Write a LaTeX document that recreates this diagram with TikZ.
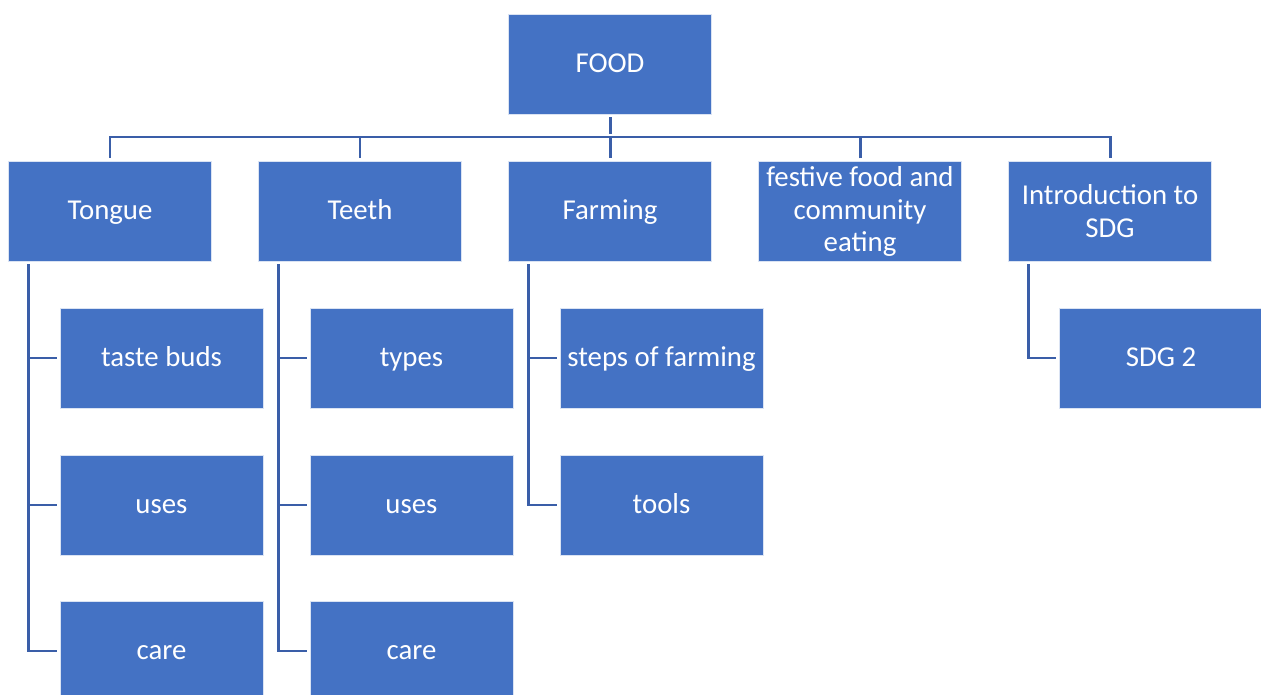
\documentclass[tikz,border=0pt]{standalone}
\usepackage{fontspec}
\setmainfont{Carlito}
\usetikzlibrary{calc}
\usepackage{xcolor}
\definecolor{b1}{HTML}{4472C4}
\definecolor{b2}{HTML}{3A5EA8}

\tikzset{
  box/.style = {fill = b1, draw = white!80!b1, line width = 0.5pt,
    text = white, align = center, inner sep = 2pt,
    minimum width = 4.06cm, minimum height = 2cm},
  line1/.style = {box, text height = 12.6pt, text depth = 3.4pt},
  link/.style = {draw = b2, line width = 1.7pt, shorten <= 1.5pt, shorten >= 1.5pt}
}

\begin{document}
\begin{tikzpicture} [x = 0.02cm, y = -0.02cm,
	font = \fontsize{16.4}{18.5}\selectfont]
\useasboundingbox (0,0) rectangle (1261,695);

% top:
\node [line1] (food) at (610,64) {FOOD};

% second row:
\node [line1] (tongue)  at (110,211)  {Tongue};
\node [line1] (teeth)   at (360,211)  {Teeth};
\node [line1] (farming) at (610,211)  {Farming};
\node [box] (festive) at (860,211.5)  {festive food and\\ community\\ eating};
\node [box] (intro)   at (1110,211) {Introduction to\\ SDG};

% Tongue children
\node [line1] (tbuds) at (161.5,358) {taste buds};
\node [line1] (tuses) at (161.5,505) {uses};
\node [line1] (tcare) at (161.5,651) {care};

% Teeth children
\node [line1] (types) at (411.5,358) {types};
\node [line1] (duses) at (411.5,505) {uses};
\node [line1] (dcare) at (411.5,651) {care};

% Farming children
\node [line1] (steps) at (661.5,358) {steps of farming};
\node [line1] (tools) at (661.5,505) {tools};

% SDG child
\node [line1] (sdg) at (1161,358) {SDG 2};

% bus:
\coordinate (bus) at (610,137);
\draw [link] (food.south) -- (bus);
\foreach \n in {tongue,teeth,farming,festive,intro}
	\draw [draw = b2, line width = 1.7pt, shorten <= 1.5pt] (\n.north) |- (bus);

% trunks:
\foreach \p/\c in {tongue/tcare,teeth/dcare,farming/tools,intro/sdg}
	\draw [link] ($(\p.south west)+(20,0)$) coordinate (\p-trunk) |- (\c.west);
\foreach \p/\c in {tongue/tbuds,tongue/tuses,teeth/types,teeth/duses,farming/steps}
	\draw [draw = b2, line width = 1.7pt, shorten >= 1.5pt] (\p-trunk |- \c.west) -- (\c.west);
\end{tikzpicture}
\end{document}
